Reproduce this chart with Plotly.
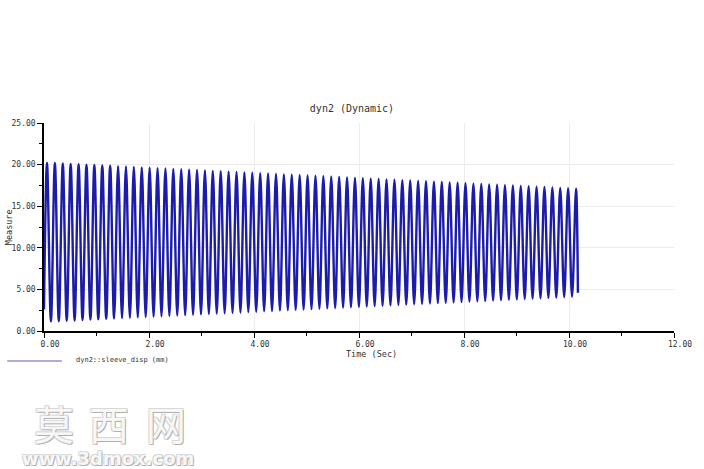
import plotly.graph_objects as go

# ---- data ----
peak_t = [0.057, 0.207, 0.358, 0.508, 0.659, 0.809, 0.959, 1.110, 1.260, 1.411, 1.561, 1.711,
          1.862, 2.012, 2.163, 2.313, 2.463, 2.614, 2.764, 2.915, 3.065, 3.215, 3.366, 3.516,
          3.667, 3.817, 3.967, 4.118, 4.268, 4.419, 4.569, 4.719, 4.870, 5.020, 5.171, 5.321,
          5.471, 5.622, 5.772, 5.923, 6.073, 6.223, 6.374, 6.524, 6.675, 6.825, 6.975, 7.126,
          7.276, 7.427, 7.577, 7.727, 7.878, 8.028, 8.179, 8.329, 8.479, 8.630, 8.780, 8.931,
          9.081, 9.231, 9.382, 9.532, 9.683, 9.833, 9.983, 10.134]
peak_v = [20.23, 20.19, 20.14, 20.09, 20.05, 20.00, 19.95, 19.91, 19.86, 19.81, 19.77, 19.72,
          19.67, 19.63, 19.58, 19.53, 19.49, 19.44, 19.39, 19.35, 19.30, 19.25, 19.21, 19.16,
          19.11, 19.07, 19.02, 18.97, 18.93, 18.88, 18.83, 18.79, 18.74, 18.69, 18.65, 18.60,
          18.55, 18.51, 18.46, 18.41, 18.37, 18.32, 18.27, 18.23, 18.18, 18.13, 18.09, 18.04,
          17.99, 17.95, 17.90, 17.85, 17.81, 17.76, 17.71, 17.67, 17.62, 17.57, 17.53, 17.48,
          17.43, 17.39, 17.34, 17.30, 17.25, 17.20, 17.16, 17.11]
trough_t = [0.132, 0.282, 0.433, 0.583, 0.734, 0.884, 1.034, 1.185, 1.335, 1.486, 1.636, 1.786,
            1.937, 2.087, 2.238, 2.388, 2.538, 2.689, 2.839, 2.990, 3.140, 3.290, 3.441, 3.591,
            3.742, 3.892, 4.042, 4.193, 4.343, 4.494, 4.644, 4.794, 4.945, 5.095, 5.246, 5.396,
            5.546, 5.697, 5.847, 5.998, 6.148, 6.298, 6.449, 6.599, 6.750, 6.900, 7.050, 7.201,
            7.351, 7.502, 7.652, 7.802, 7.953, 8.103, 8.254, 8.404, 8.554, 8.705, 8.855, 9.006,
            9.156, 9.306, 9.457, 9.607, 9.758, 9.908, 10.058]
trough_v = [1.14, 1.18, 1.23, 1.27, 1.32, 1.37, 1.41, 1.46, 1.50, 1.55, 1.59, 1.64,
            1.68, 1.73, 1.77, 1.82, 1.86, 1.91, 1.95, 2.00, 2.04, 2.09, 2.13, 2.18,
            2.22, 2.27, 2.31, 2.36, 2.40, 2.45, 2.49, 2.54, 2.58, 2.63, 2.67, 2.72,
            2.76, 2.81, 2.85, 2.90, 2.94, 2.99, 3.03, 3.08, 3.13, 3.17, 3.22, 3.26,
            3.31, 3.35, 3.40, 3.44, 3.49, 3.53, 3.58, 3.62, 3.67, 3.71, 3.76, 3.80,
            3.85, 3.89, 3.94, 3.98, 4.03, 4.07, 4.12]
start_pt = (0.0, 2.6)
end_pt = (10.17, 4.6)

x_ticks = [0, 2, 4, 6, 8, 10, 12]
y_ticks = [0, 5, 10, 15, 20, 25]

pts = [start_pt] + list(zip(peak_t, peak_v)) + list(zip(trough_t, trough_v)) + [end_pt]
pts.sort(key=lambda p: p[0])
tx = [p[0] for p in pts]
ty = [p[1] for p in pts]

W, H = 704, 469
L, R, T, B = 42, 676, 123, 331


def px(x):
    return (x - L) / (R - L)


def py(y):
    return (B - y) / (B - T)


fig = go.Figure()
fig.add_trace(go.Scatter(x=tx, y=ty, mode="lines",
                         line=dict(color="#1c1cac", width=2.4, shape="spline"),
                         showlegend=False, hoverinfo="skip"))

mono = "DejaVu Sans Mono"
fig.update_layout(
    width=W, height=H,
    margin=dict(l=L, r=W - R, t=T, b=H - B),
    paper_bgcolor="white", plot_bgcolor="white",
    title=dict(text="dyn2 (Dynamic)", x=352 / W, xanchor="center",
               y=1 - 108 / H, yanchor="middle",
               font=dict(family=mono, size=10, color="#333")),
    xaxis=dict(range=[0, 12], tickvals=x_ticks, tickformat=".2f",
               showgrid=True, gridcolor="#ececec", gridwidth=1, zeroline=False,
               showline=True, linecolor="black", linewidth=1.5,
               ticks="outside", ticklen=5, tickcolor="black", tickwidth=1,
               minor=dict(dtick=1, ticks="outside", ticklen=3, tickcolor="black", showgrid=False),
               ticklabelshift=6,
               tickfont=dict(family=mono, size=8, color="#333")),
    yaxis=dict(range=[0, 25], tickvals=y_ticks, tickformat=".2f",
               showgrid=True, gridcolor="#ececec", gridwidth=1, zeroline=False,
               showline=True, linecolor="black", linewidth=1.5,
               ticks="outside", ticklen=5, tickcolor="black", tickwidth=1,
               minor=dict(dtick=2.5, ticks="outside", ticklen=3, tickcolor="black", showgrid=False),
               tickfont=dict(family=mono, size=8, color="#333")),
)


def note(text, x, y, font, **kw):
    fig.add_annotation(text=text, xref="paper", yref="paper", x=px(x), y=py(y),
                       xanchor=kw.pop("xanchor", "center"), yanchor="middle",
                       showarrow=False, font=font, **kw)


# axis titles
note("Time (Sec)", 372, 354, dict(family=mono, size=8.5, color="#333"))
note("Measure", 7, 227, dict(family=mono, size=8.5, color="#333"), textangle=-90)

# legend
fig.add_shape(type="line", xref="paper", yref="paper", x0=px(5), x1=px(60), y0=py(361), y1=py(361),
              line=dict(color="#5a5ab0", width=1))
note("dyn2::sleeve_disp (mm)", 72, 360, dict(family=mono, size=7, color="#333"), xanchor="left")

# watermark
shadow = "1px 1px 0px #b0b0b0, -1px -1px 0px #d8d8d8, 1px -1px 0px #d8d8d8, -1px 1px 0px #d8d8d8"
for ch, cx in zip(["莫", "西", "网"], [52, 107, 165]):
    note(ch, cx, 423, dict(family="Noto Sans CJK SC", size=40, color="#f7f7f7", shadow=shadow))
note("www.3dmox.com", 106, 458, dict(family="DejaVu Sans", size=18, weight="bold",
                                     color="#f7f7f7", shadow=shadow))

fig.write_html("out.html")
